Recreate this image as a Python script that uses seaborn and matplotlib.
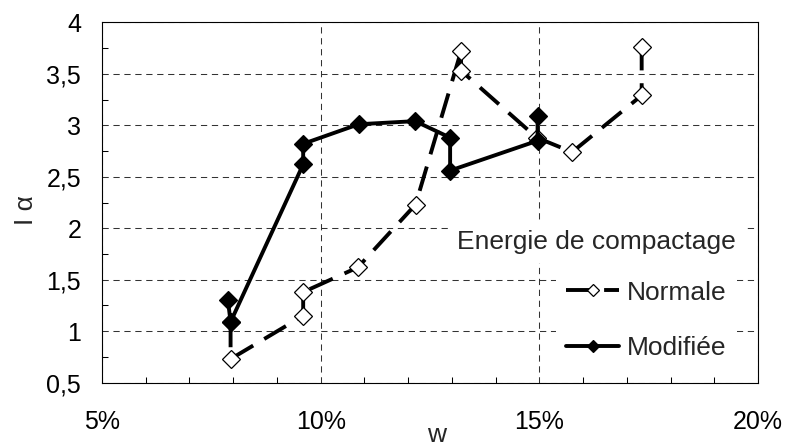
import matplotlib
matplotlib.use("Agg")
import matplotlib.pyplot as plt
from matplotlib.ticker import MultipleLocator, FuncFormatter
import seaborn as sns
import pandas as pd

# Water content w (%) and I-alpha index for the two compaction energies
w_normale = [7.94, 7.94, 9.60, 9.60, 10.85, 12.17, 13.21, 13.21, 14.94, 15.75, 17.34, 17.34]
ia_normale = [1.09, 0.73, 1.15, 1.38, 1.62, 2.23, 3.72, 3.53, 2.88, 2.74, 3.29, 3.76]

w_modifiee = [7.88, 7.94, 9.60, 9.60, 10.87, 12.16, 12.96, 12.96, 14.96, 14.96]
ia_modifiee = [1.30, 1.09, 2.62, 2.82, 3.01, 3.04, 2.88, 2.56, 2.85, 3.09]

series_labels = ["Normale", "Modifiée"]
legend_title = "Energie de compactage"
x_label = "w"
y_label = "I α"

sns.set_theme(style="white")
plt.rcParams["font.family"] = ["Liberation Sans", "DejaVu Sans"]
plt.rcParams["font.size"] = 18

fig = plt.figure(figsize=(7.85, 4.46), dpi=100)
ax = fig.add_axes([102 / 785, 1 - 382.7 / 446, 656 / 785, 360.4 / 446])

df_n = pd.DataFrame({"w": w_normale, "ia": ia_normale})
df_m = pd.DataFrame({"w": w_modifiee, "ia": ia_modifiee})

sns.lineplot(data=df_n, x="w", y="ia", sort=False, estimator=None, ax=ax,
             color="black", linewidth=2.8, linestyle=(0, (6.5, 3.3)),
             marker="D", markersize=9.4, markerfacecolor="white",
             markeredgecolor="black", markeredgewidth=0.9,
             label=series_labels[0], zorder=3)
sns.lineplot(data=df_m, x="w", y="ia", sort=False, estimator=None, ax=ax,
             color="black", linewidth=2.8, linestyle="-",
             marker="D", markersize=9.4, markerfacecolor="black",
             markeredgecolor="black", markeredgewidth=0.9,
             label=series_labels[1], zorder=4)

ax.set_xlim(5, 20)
ax.set_ylim(0.5, 4)
ax.xaxis.set_major_locator(MultipleLocator(5))
ax.xaxis.set_minor_locator(MultipleLocator(1))
ax.yaxis.set_major_locator(MultipleLocator(0.5))
ax.yaxis.set_minor_locator(MultipleLocator(0.25))
ax.xaxis.set_major_formatter(FuncFormatter(lambda v, p: f"{v:.0f}%"))
ax.yaxis.set_major_formatter(
    FuncFormatter(lambda v, p: (f"{v:g}").replace(".", ",")))

ax.tick_params(axis="x", which="major", length=0, pad=20, labelsize=18,
               colors="black")
ax.tick_params(axis="y", which="major", length=0, pad=15, labelsize=18,
               colors="black")
ax.tick_params(which="minor", direction="in", length=4.3, width=0.75,
               color="black")
ax.tick_params(axis="x", which="minor", bottom=True, top=False)
ax.tick_params(axis="y", which="minor", left=True, right=False)

# dashed grid at the major positions inside the frame
ax.grid(True, which="major", color="#333333", linewidth=0.75,
        linestyle=(0, (6, 4.5)), zorder=1)
ax.set_axisbelow(True)

for s in ax.spines.values():
    s.set_visible(True)
    s.set_color("black")
    s.set_linewidth(0.8)

ax.set_xlabel(x_label, fontsize=19)
ax.set_ylabel(y_label, fontsize=19)
ax.xaxis.set_label_coords((437 - 102) / 656, (382.7 - 423.5) / 360.4)
ax.yaxis.set_label_coords(-0.098, 0.48)

ax.text((736 - 102) / 656, (382.7 - 241.7) / 360.4, legend_title,
        transform=ax.transAxes, ha="right", va="center", fontsize=19,
        zorder=5, bbox=dict(boxstyle="square,pad=0.35", fc="white", ec="none"))

leg = ax.legend(loc="center",
                bbox_to_anchor=((646.5 - 102) / 656, (382.7 - 320.5) / 360.4),
                frameon=True, fancybox=False, framealpha=1, facecolor="white",
                edgecolor="none", fontsize=19, handlelength=2.0,
                handletextpad=0.3, labelspacing=1.2, borderpad=0.4,
                markerscale=0.7)
leg.set_zorder(6)

fig.savefig("out.png", dpi=100)
